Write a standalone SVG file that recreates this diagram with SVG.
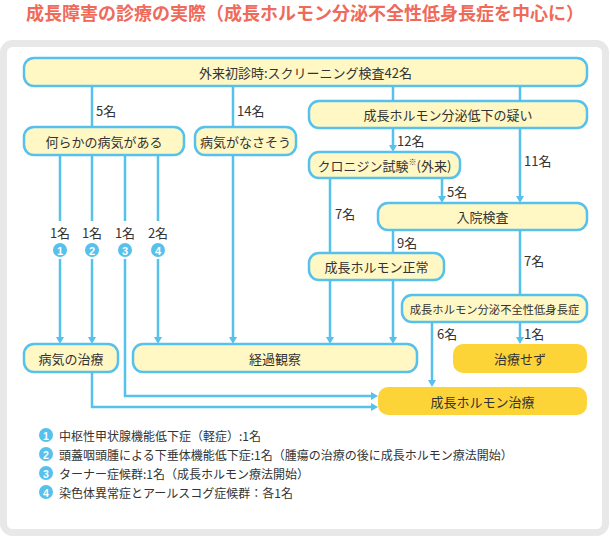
<svg xmlns="http://www.w3.org/2000/svg" width="610" height="536" viewBox="0 0 610 536">
<style>
text{font-family:"Noto Sans CJK JP","Noto Sans",sans-serif;fill:#333}
.t{font-size:18px;font-weight:bold;fill:#f06a5a}
.n{font-size:13px;text-anchor:middle;dominant-baseline:central}
.ns{font-size:11.3px;text-anchor:middle;dominant-baseline:central}
.c{font-size:13px;dominant-baseline:central}
.cm{font-size:13px;text-anchor:middle;dominant-baseline:central}
.lg{font-size:12px;dominant-baseline:central}
.num{font-family:"Liberation Sans",Arial,sans-serif;font-weight:bold;fill:#fff;text-anchor:middle;dominant-baseline:central}
.box{fill:#fff8c5;stroke:#55c1ec;stroke-width:2.5}
.gold{fill:#fdd437}
.ln{fill:none;stroke:#55c1ec;stroke-width:2.5}
.ar{marker-end:url(#arr)}
.dot{fill:#55c1ec}
</style>
<defs>
<marker id="arr" markerUnits="userSpaceOnUse" markerWidth="8" markerHeight="8" refX="3" refY="4" orient="auto">
<path d="M0,0 L7,4 L0,8 z" fill="#55c1ec"/>
</marker>
</defs>
<text class="t" x="305" y="20" text-anchor="middle">成長障害の診療の実際（成長ホルモン分泌不全性低身長症を中心に）</text>
<rect x="3.5" y="43.5" width="602" height="489" rx="9" fill="#fff" stroke="#e8e8e8" stroke-width="7"/>

<g id="connectors">
<path class="ln" d="M92,86 V127 M233,86 V127 M393,86 V101 M520,86 V101"/>
<path class="ln ar" d="M393,128 V148"/>
<path class="ln ar" d="M520,128 V199"/>
<path class="ln ar" d="M442,178 V199"/>
<path class="ln" d="M330,178 V253 M393,230 V253 M520,230 V295"/>
<path class="ln ar" d="M330,280 V340"/>
<path class="ln ar" d="M393,280 V340"/>
<path class="ln ar" d="M520,322 V340"/>
<path class="ln ar" d="M432,322 V383"/>
<path class="ln" d="M60,155 V221 M92,155 V221 M125,155 V221 M158,155 V221"/>
<path class="ln ar" d="M60,259 V340"/>
<path class="ln ar" d="M92,259 V340"/>
<path class="ln ar" d="M158,259 V340"/>
<path class="ln ar" d="M233,155 V340"/>
<path class="ln ar" d="M125,259 V396 H374"/>
<path class="ln ar" d="M92,372 V407 H374"/>
<text class="c" x="96" y="110">5名</text>
<text class="c" x="237" y="110">14名</text>
<text class="c" x="397" y="140">12名</text>
<text class="c" x="524" y="160">11名</text>
<text class="c" x="447" y="191">5名</text>
<text class="c" x="335" y="213">7名</text>
<text class="c" x="397" y="242">9名</text>
<text class="c" x="524" y="260">7名</text>
<text class="c" x="437" y="333">6名</text>
<text class="c" x="524" y="333">1名</text>
<text class="cm" x="60" y="232">1名</text>
<text class="cm" x="92" y="232">1名</text>
<text class="cm" x="125" y="232">1名</text>
<text class="cm" x="158" y="232">2名</text>
<circle class="dot" cx="60" cy="250" r="7"/><text class="num" x="60" y="250.5" font-size="11">1</text>
<circle class="dot" cx="92" cy="250" r="7"/><text class="num" x="92" y="250.5" font-size="11">2</text>
<circle class="dot" cx="125" cy="250" r="7"/><text class="num" x="125" y="250.5" font-size="11">3</text>
<circle class="dot" cx="158" cy="250" r="7"/><text class="num" x="158" y="250.5" font-size="11">4</text>
</g>

<g id="n-screening"><rect class="box" x="24" y="58" width="563" height="28" rx="10"/><text class="n" x="305.5" y="72">外来初診時:スクリーニング検査42名</text></g>
<g id="n-disease"><rect class="box" x="24" y="127" width="160" height="28" rx="10"/><text class="n" x="104" y="141">何らかの病気がある</text></g>
<g id="n-nodisease"><rect class="box" x="195" y="127" width="101" height="28" rx="10"/><text class="n" x="245.5" y="141">病気がなさそう</text></g>
<g id="n-suspect"><rect class="box" x="309" y="101" width="278" height="27" rx="10"/><text class="n" x="448" y="114.5">成長ホルモン分泌低下の疑い</text></g>
<g id="n-clonidine"><rect class="box" x="309" y="152" width="151" height="26" rx="10"/><text class="n" x="384.5" y="165">クロニジン試験<tspan font-size="8" dy="-4">※</tspan><tspan dy="4">(外来)</tspan></text></g>
<g id="n-admit"><rect class="box" x="378" y="203" width="209" height="27" rx="10"/><text class="n" x="482.5" y="216.5">入院検査</text></g>
<g id="n-normal"><rect class="box" x="309" y="253" width="135" height="27" rx="10"/><text class="n" x="376.5" y="266.5">成長ホルモン正常</text></g>
<g id="n-ghd"><rect class="box" x="402" y="295" width="185" height="27" rx="10"/><text class="ns" x="494.5" y="308.5">成長ホルモン分泌不全性低身長症</text></g>
<g id="n-treatdisease"><rect class="box" x="24" y="344" width="94" height="28" rx="10"/><text class="n" x="71" y="358">病気の治療</text></g>
<g id="n-observe"><rect class="box" x="133" y="344" width="284" height="28" rx="10"/><text class="n" x="275" y="358">経過観察</text></g>
<g id="n-notreat"><rect class="gold" x="453" y="344" width="134" height="29" rx="10"/><text class="n" x="520" y="358.5">治療せず</text></g>
<g id="n-ghtreat"><rect class="gold" x="378" y="387" width="209" height="28" rx="10"/><text class="n" x="482.5" y="401">成長ホルモン治療</text></g>

<g id="legend">
<circle class="dot" cx="46" cy="435" r="7"/><text class="num" x="46" y="435.5" font-size="10.5">1</text>
<text class="lg" x="59" y="435">中枢性甲状腺機能低下症（軽症）:1名</text>
<circle class="dot" cx="46" cy="454" r="7"/><text class="num" x="46" y="454.5" font-size="10.5">2</text>
<text class="lg" x="59" y="454">頭蓋咽頭腫による下垂体機能低下症:1名（腫瘍の治療の後に成長ホルモン療法開始）</text>
<circle class="dot" cx="46" cy="473" r="7"/><text class="num" x="46" y="473.5" font-size="10.5">3</text>
<text class="lg" x="59" y="473">ターナー症候群:1名（成長ホルモン療法開始）</text>
<circle class="dot" cx="46" cy="492" r="7"/><text class="num" x="46" y="492.5" font-size="10.5">4</text>
<text class="lg" x="59" y="492">染色体異常症とアールスコグ症候群：各1名</text>
</g>
</svg>
